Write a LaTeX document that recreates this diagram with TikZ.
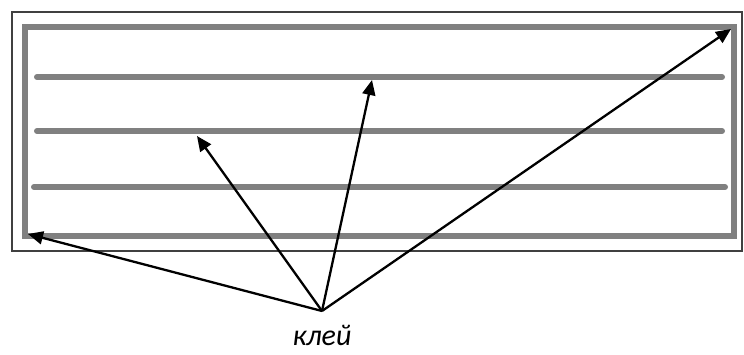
\documentclass[tikz,border=0pt]{standalone}
\usepackage{fontspec}
\setmainfont{Carlito}
\definecolor{gluegray}{RGB}{128,128,128}
\definecolor{edgegray}{RGB}{64,64,64}
\usetikzlibrary{arrows.meta}

\begin{document}
\begin{tikzpicture}[x=1pt,y=-1pt,
    glueline/.style={draw=gluegray,line width=6pt,line cap=round},
    pointer/.style={-{Triangle[length=15pt,width=13pt]},line width=2.3pt}]
  \useasboundingbox (0,0) rectangle (744,354);

  %% panel and glue border
  \draw[edgegray,line width=2pt] (12,12) rectangle (742,251);
  \draw[glueline] (25,27) rectangle (734,236);

  %% glue strips
  \draw[glueline] (37,77) -- (722,77);
  \draw[glueline] (37,131) -- (722,131);
  \draw[glueline] (34,187) -- (725,187);

  %% label
  \node[font=\fontsize{30}{33}\selectfont\itshape,anchor=base,inner sep=0pt]
        (klei) at (322,345) {клей};
  \coordinate (apex) at (322,311);
  \coordinate (corner) at (28,234);
  \coordinate (strip) at (197,136);
  \coordinate (top) at (372,80);
  \coordinate (far) at (731,29);

  %% arrows
  \draw[pointer] (apex) -- (corner);
  \draw[pointer] (apex) -- (strip);
  \draw[pointer] (apex) -- (top);
  \draw[pointer] (apex) -- (far);
\end{tikzpicture}
\end{document}
